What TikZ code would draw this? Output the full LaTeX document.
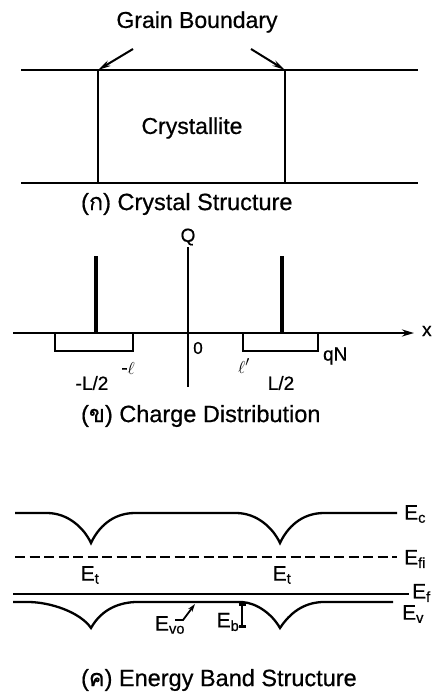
\documentclass[tikz,border=0pt]{standalone}
\usepackage{fontspec}
\setmainfont{Liberation Sans}[FakeBold=0.6]
\newfontfamily\thaifont[Script=Thai,FakeBold=0.6]{Loma}
\usetikzlibrary{arrows.meta}
\newcommand\Esub[1]{E\textsubscript{#1}}
\begin{document}
\begin{tikzpicture}[x=1pt,y=-1pt,line width=2.2pt,
  big/.style={font=\fontsize{23}{25}\selectfont,inner sep=0pt},
  captxt/.style={font=\fontsize{23.5}{25}\selectfont,inner sep=0pt,anchor=west},
  sml/.style={font=\fontsize{19}{21}\selectfont,inner sep=0pt},
  elbl/.style={font=\fontsize{21}{23}\selectfont,inner sep=0pt},
  ptr/.style={line width=2pt,-{Stealth[length=13pt,width=6pt]}},
  bar/.style={line width=4.6pt},
  band/.style={line width=2.3pt}]
\useasboundingbox (0,0) rectangle (433,698);
% (a) crystal structure
\node[big] (gb) at (197,22) {Grain Boundary};
\coordinate (tl) at (21,70); \coordinate (tr) at (418,70);
\coordinate (bl) at (21,183); \coordinate (br) at (418,183);
\coordinate (g1t) at (98,70); \coordinate (g1b) at (98,183);
\coordinate (g2t) at (285,70); \coordinate (g2b) at (285,183);
\draw (tl) -- (tr);
\draw (bl) -- (br);
\draw (g1t) -- (g1b);
\draw (g2t) -- (g2b);
\coordinate (a1) at (133,49); \coordinate (a2) at (251,49);
\draw[ptr] (a1) -- (g1t);
\draw[ptr] (a2) -- (g2t);
\node[big] (cr) at (192,128) {Crystallite};
\node[captxt] (capa) at (80,204) {({\thaifont ก}) Crystal Structure};
% (b) charge distribution
\node[sml] (Q) at (188,237) {Q};
\coordinate (qt) at (188,247); \coordinate (qb) at (188,387);
\draw (qt) -- (qb);
\coordinate (xl) at (13,333); \coordinate (xr) at (414,333);
\draw[-{Stealth[length=12pt,width=7pt]}] (xl) -- (xr);
\node[sml,anchor=west] (X) at (421,331) {x};
\coordinate (b1t) at (96,256); \coordinate (b1b) at (96,334);
\coordinate (b2t) at (282,256); \coordinate (b2b) at (282,334);
\draw[bar] (b1t) -- (b1b);
\draw[bar] (b2t) -- (b2b);
\draw (55,333) -- (55,351) -- (133,351) -- (133,333);
\draw (243,333) -- (243,351) -- (318,351) -- (318,333);
\node[font=\fontsize{17}{19}\selectfont,inner sep=0pt] (zero) at (198,348) {0};
\node[sml,anchor=west] (qN) at (322,356) {qN};
\node[sml] (mL) at (92,383) {-L/2};
\node[sml] (pL) at (281,383) {L/2};
\node[sml] (ml) at (128,368) {-$\ell$};
\node[sml] (pl) at (244,366) {$\ell'$};
\node[captxt] (capb) at (80,416) {({\thaifont ข}) Charge Distribution};
% (c) energy band structure
\coordinate (ec0) at (15,513); \coordinate (ec1) at (397,513);
\draw[band] (ec0) -- (47,513) .. controls (68,513) and (84,528) .. (91,543)
  .. controls (98,528) and (112,513) .. (135,513) -- (236,513)
  .. controls (257,513) and (273,528) .. (280,543)
  .. controls (287,528) and (301,513) .. (324,513) -- (ec1);
\node[elbl,anchor=west] (Ec) at (403,514) {\Esub{c}};
\coordinate (fi0) at (15,557); \coordinate (fi1) at (397,557);
\draw[band,dash pattern=on 10pt off 4.5pt] (fi0) -- (fi1);
\node[elbl,anchor=west] (Efi) at (403,559) {\Esub{fi}};
\node[elbl] (Et1) at (90,575) {\Esub{t}};
\node[elbl] (Et2) at (282,575) {\Esub{t}};
\coordinate (ef0) at (13,594); \coordinate (ef1) at (409,594);
\draw[band] (ef0) -- (ef1);
\node[elbl,anchor=west] (Ef) at (411,593) {\Esub{f}};
\coordinate (ev0) at (13,602); \coordinate (ev1) at (393,602);
\draw[band] (ev0) -- (28,602) .. controls (50,602) and (80,612) .. (91,628)
  .. controls (100,612) and (115,603) .. (135,602) -- (242,602)
  .. controls (257,603) and (272,614) .. (280,628)
  .. controls (290,613) and (303,603) .. (322,602) -- (ev1);
\node[elbl,anchor=west] (Ev) at (401,614) {\Esub{v}};
\coordinate (eb0) at (242,603) ; \coordinate (eb1) at (242,628);
\draw[line width=2.8pt,{Bar[width=7pt]}-{Bar[width=7pt]}] (eb0) -- (eb1);
\node[elbl] (Eb) at (228,622) {\Esub{b}};
\node[elbl] (Evo) at (170,625) {\Esub{vo}};
\coordinate (v0) at (175,620); \coordinate (v1) at (183,620); \coordinate (v2) at (195,604);
\draw[line width=1.8pt,-{Stealth[length=8pt,width=5pt]}] (v0) -- (v1) -- (v2);
\node[captxt] (capc) at (80,680) {({\thaifont ค}) Energy Band Structure};
\end{tikzpicture}
\end{document}
